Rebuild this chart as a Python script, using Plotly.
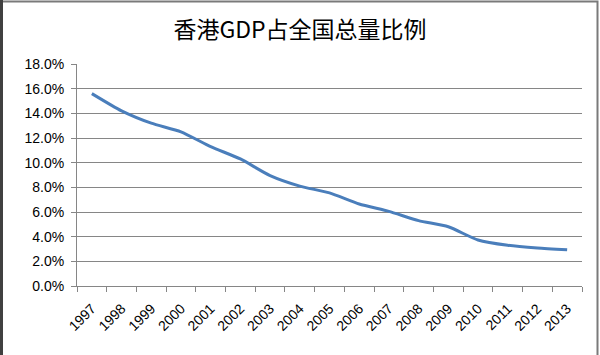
import plotly.graph_objects as go

years = ["1997", "1998", "1999", "2000", "2001", "2002", "2003", "2004", "2005",
         "2006", "2007", "2008", "2009", "2010", "2011", "2012", "2013"]
share = [15.6, 14.2, 13.2, 12.5, 11.3, 10.3, 8.95, 8.1, 7.55,
         6.65, 6.05, 5.3, 4.8, 3.73, 3.3, 3.08, 2.94]
yticks = [0, 2, 4, 6, 8, 10, 12, 14, 16, 18]
ytick_labels = [f"{v:.1f}%" for v in yticks]

fig = go.Figure()
fig.add_trace(go.Scatter(
    x=years, y=share, mode="lines",
    line=dict(color="#4A7EBB", width=3, shape="spline", smoothing=0.6),
    showlegend=False, hoverinfo="skip"))

W, H = 600, 355
L, R, T, B = 77, 18, 64, 69
pw, ph = W - L - R, H - T - B

def px_x(p):
    return (p - L) / pw

def px_y(p):
    return (H - B - p) / ph

fig.update_layout(
    width=W, height=H,
    margin=dict(l=L, r=R, t=T, b=B, autoexpand=False),
    paper_bgcolor="white", plot_bgcolor="white",
    title=dict(text="香港GDP占全国总量比例", x=0.5, xref="container", xanchor="center",
               y=1 - 30 / H, yanchor="middle",
               font=dict(family="Noto Sans CJK SC", size=23, color="#000000")),
    font=dict(family="Liberation Sans", size=13, color="#000000"),
    xaxis=dict(type="category", showgrid=False, showline=True, linecolor="#868686",
               linewidth=1, ticks="outside", ticklen=5, tickcolor="#868686",
               tickson="boundaries", tickangle=-45, range=[-0.5, 16.5],
               automargin=False, ticklabelstandoff=8,
               tickfont=dict(family="Liberation Sans", size=14)),
    yaxis=dict(range=[0, 18], tickvals=yticks, ticktext=ytick_labels,
               showgrid=True, gridcolor="#868686", gridwidth=1,
               showline=True, linecolor="#868686", linewidth=1,
               ticks="outside", ticklen=5, tickcolor="#868686",
               automargin=False, ticklabelstandoff=4,
               zeroline=False, tickfont=dict(family="Liberation Sans", size=14)),
    shapes=[
        dict(type="rect", xref="paper", yref="paper",
             x0=px_x(1.5), x1=px_x(597.5), y0=px_y(360), y1=px_y(1.5),
             line=dict(color="#7A7A7A", width=2), layer="below"),
        dict(type="line", xref="paper", yref="paper",
             x0=px_x(1.5), x1=px_x(1.5), y0=px_y(360), y1=px_y(0),
             line=dict(color="#404040", width=3), layer="below"),
    ],
)

fig.write_html("out.html", config={"displayModeBar": False},
               post_script="document.body.style.margin='0';document.body.style.overflow='hidden';")
